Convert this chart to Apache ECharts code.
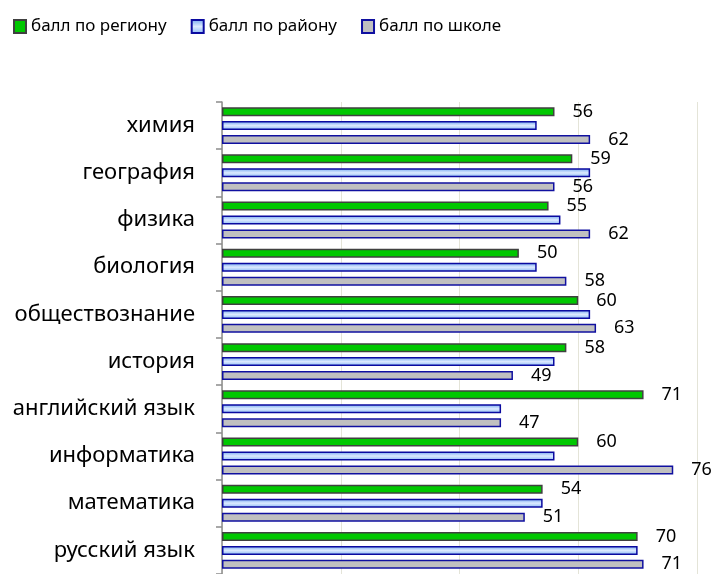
<!DOCTYPE html>
<html>
<head>
<meta charset="utf-8">
<script src="https://cdn.jsdelivr.net/npm/echarts@6/dist/echarts.min.js"></script>
<style>
  html, body { margin: 0; padding: 0; background: #fff; }
  #main { width: 712px; height: 574px; }
</style>
</head>
<body>
<div id="main"></div>
<script>
// subjects, bottom to top (category axis starts at the bottom)
var subjects = ['русский язык', 'математика', 'информатика', 'английский язык', 'история',
  'обществознание', 'биология', 'физика', 'география', 'химия'];
var seriesNames = ['балл по региону', 'балл по району', 'балл по школе'];
var regionScores = [70, 54, 60, 71, 58, 60, 50, 55, 59, 56];
var districtScores = [70, 54, 56, 47, 56, 62, 53, 57, 62, 53];
var schoolScores = [71, 51, 76, 47, 49, 63, 58, 62, 56, 62];

var FONT = 'Noto Sans';

var valueLabel = {
  show: true,
  position: 'right',
  distance: 18,
  color: '#000',
  fontFamily: FONT,
  fontSize: 18
};

var chart = echarts.init(document.getElementById('main'));
chart.setOption({
  animation: false,
  textStyle: { fontFamily: FONT },
  legend: {
    top: 13,
    left: 8,
    itemWidth: 12,
    itemHeight: 13,
    itemGap: 24,
    icon: 'rect',
    textStyle: { fontFamily: FONT, fontSize: 17, color: '#000' },
    data: seriesNames
  },
  grid: { left: 222, right: 15, top: 102, bottom: 0 },
  xAxis: {
    type: 'value',
    min: 0,
    max: 80,
    interval: 20,
    axisLabel: { show: false },
    axisLine: { show: false },
    axisTick: { show: false },
    splitLine: { show: true, lineStyle: { color: '#e4e4d8', width: 1 } }
  },
  yAxis: {
    type: 'category',
    data: subjects,
    axisLine: { show: true, lineStyle: { color: '#8c8c8c', width: 1.5 } },
    axisTick: { show: true, length: 6, lineStyle: { color: '#8c8c8c', width: 1.5 } },
    axisLabel: { margin: 27, color: '#000', fontFamily: FONT, fontSize: 22 }
  },
  series: [
    {
      name: seriesNames[0],
      type: 'bar',
      data: regionScores,
      barWidth: 9,
      barGap: '55%',
      itemStyle: { color: '#00c800', borderColor: '#404040', borderWidth: 1.5 },
      label: valueLabel
    },
    {
      name: seriesNames[1],
      type: 'bar',
      data: districtScores,
      barWidth: 9,
      barGap: '55%',
      itemStyle: {
        color: new echarts.graphic.LinearGradient(0, 0, 0, 1, [
          { offset: 0, color: '#6fa4ee' },
          { offset: 0.5, color: '#dceaff' },
          { offset: 1, color: '#86b6f4' }
        ]),
        borderColor: '#0a0aa0',
        borderWidth: 1.5
      }
    },
    {
      name: seriesNames[2],
      type: 'bar',
      data: schoolScores,
      barWidth: 9,
      barGap: '55%',
      itemStyle: { color: '#c0c0c0', borderColor: '#1010a0', borderWidth: 1.5 },
      label: valueLabel
    }
  ]
});
</script>
</body>
</html>
